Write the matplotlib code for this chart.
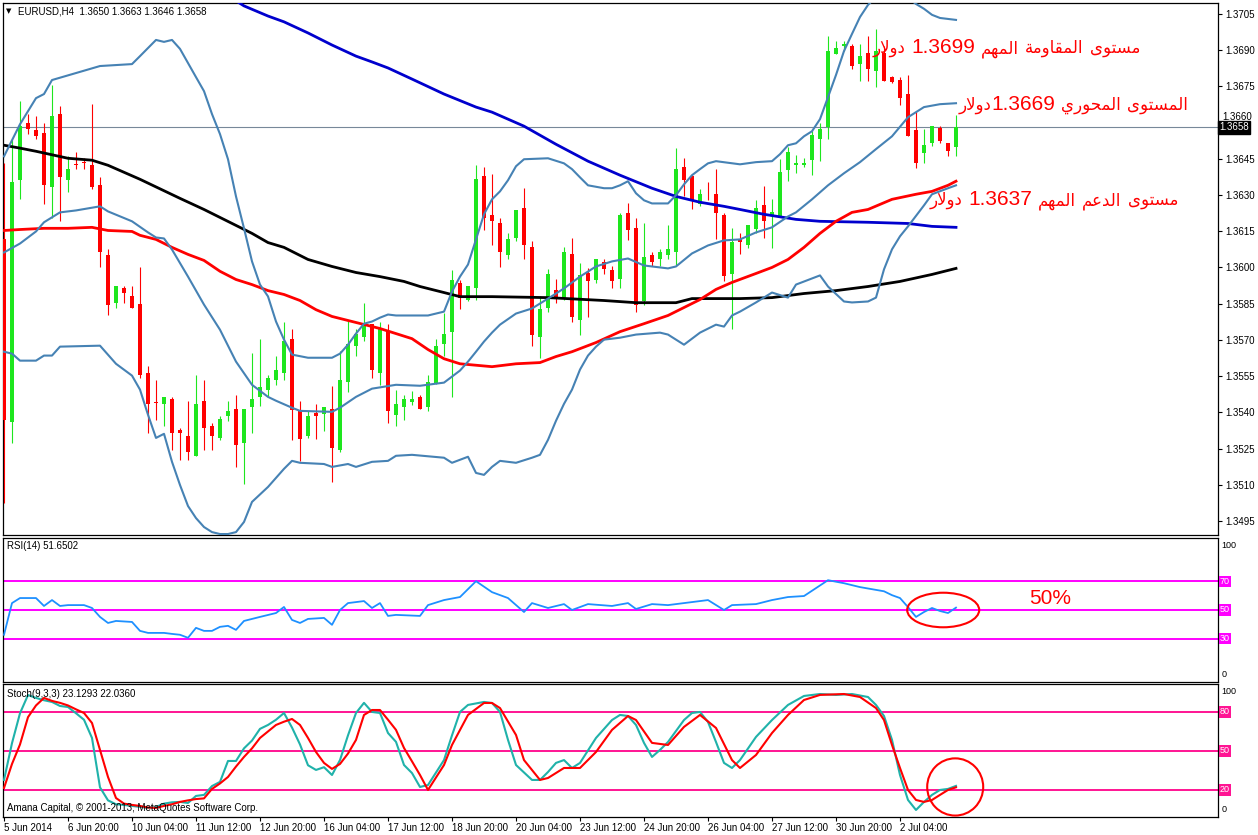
import re
import matplotlib
matplotlib.use("Agg")
import matplotlib.pyplot as plt
from matplotlib.patches import Ellipse

plt.rcParams['font.family'] = ['Liberation Sans', 'DejaVu Sans']

# ---- data (EURUSD H4, bar 0 = 5 Jun 2014 12:00) ----
opens = [
    1.36116, 1.35362, 1.36362, 1.36597, 1.36568, 1.36556, 1.36333, 1.36635, 1.36362, 1.36426,
    1.36435, 1.36426, 1.36343, 1.36053, 1.35853, 1.35916, 1.35882, 1.35847, 1.35563, 1.35443,
    1.35434, 1.35457, 1.35325, 1.35303, 1.35221, 1.35445, 1.35344, 1.35293, 1.35383, 1.35415,
    1.35273, 1.35420, 1.35462, 1.35491, 1.35533, 1.35563, 1.35705, 1.35411, 1.35300, 1.35397,
    1.35393, 1.35414, 1.35242, 1.35524, 1.35674, 1.35711, 1.35764, 1.35563, 1.35736, 1.35390,
    1.35420, 1.35441, 1.35463, 1.35420, 1.35517, 1.35681, 1.35733, 1.35936, 1.35867, 1.35913,
    1.36379, 1.36216, 1.36185, 1.36051, 1.36120, 1.36245, 1.36086, 1.35711, 1.35830, 1.35905,
    1.35871, 1.36054, 1.35782, 1.35978, 1.35950, 1.36024, 1.35988, 1.35953, 1.36227, 1.36165,
    1.35860, 1.36051, 1.36036, 1.36051, 1.36064, 1.36414, 1.36379, 1.36264, 1.36314, 1.36306,
    1.36216, 1.35971, 1.36119, 1.36091, 1.36161, 1.36257, 1.36213, 1.36213, 1.36404, 1.36425,
    1.36425, 1.36444, 1.36531, 1.36582, 1.36884, 1.36918, 1.36918, 1.36842, 1.36888, 1.36815,
    1.36888, 1.36787, 1.36776, 1.36718, 1.36568, 1.36473, 1.36515, 1.36577, 1.36517, 1.36500,
]
highs = [
    1.36434, 1.36527, 1.36690, 1.36635, 1.36628, 1.36597, 1.36755, 1.36669, 1.36462, 1.36476,
    1.36455, 1.36676, 1.36376, 1.36075, 1.35924, 1.35925, 1.35925, 1.36003, 1.35593, 1.35535,
    1.35463, 1.35463, 1.35335, 1.35445, 1.35556, 1.35535, 1.35356, 1.35386, 1.35445, 1.35473,
    1.35415, 1.35646, 1.35705, 1.35556, 1.35635, 1.35775, 1.35747, 1.35445, 1.35404, 1.35436,
    1.35422, 1.35508, 1.35653, 1.35784, 1.35746, 1.35853, 1.35764, 1.35775, 1.35764, 1.35494,
    1.35473, 1.35487, 1.35473, 1.35556, 1.35704, 1.35812, 1.35989, 1.35950, 1.35925, 1.36426,
    1.36416, 1.36386, 1.36206, 1.36144, 1.36236, 1.36328, 1.36109, 1.35881, 1.35994, 1.35953,
    1.36086, 1.36123, 1.36017, 1.35999, 1.36036, 1.36036, 1.36006, 1.36227, 1.36266, 1.36206,
    1.36185, 1.36065, 1.36075, 1.36174, 1.36496, 1.36455, 1.36386, 1.36326, 1.36355, 1.36407,
    1.36227, 1.36165, 1.36144, 1.36174, 1.36278, 1.36338, 1.36282, 1.36448, 1.36497, 1.36465,
    1.36455, 1.36566, 1.36600, 1.36957, 1.36939, 1.36939, 1.36925, 1.36925, 1.36960, 1.36987,
    1.36918, 1.36794, 1.36787, 1.36797, 1.36646, 1.36575, 1.36584, 1.36584, 1.36517, 1.36630,
]
lows = [
    1.35024, 1.35273, 1.36282, 1.36552, 1.36531, 1.36261, 1.36206, 1.36192, 1.36313, 1.36407,
    1.36407, 1.36326, 1.36003, 1.35802, 1.35833, 1.35853, 1.35833, 1.35542, 1.35314, 1.35369,
    1.35342, 1.35245, 1.35203, 1.35203, 1.35221, 1.35242, 1.35242, 1.35284, 1.35365, 1.35173,
    1.35104, 1.35314, 1.35425, 1.35466, 1.35515, 1.35533, 1.35286, 1.35197, 1.35293, 1.35290,
    1.35321, 1.35113, 1.35234, 1.35483, 1.35632, 1.35694, 1.35542, 1.35512, 1.35356, 1.35342,
    1.35369, 1.35431, 1.35414, 1.35404, 1.35517, 1.35632, 1.35463, 1.35826, 1.35860, 1.35864,
    1.36155, 1.36093, 1.36003, 1.36033, 1.36109, 1.36033, 1.35674, 1.35625, 1.35815, 1.35851,
    1.35864, 1.35773, 1.35722, 1.35794, 1.35936, 1.35974, 1.35913, 1.35913, 1.36112, 1.35816,
    1.35844, 1.36006, 1.36006, 1.36033, 1.36010, 1.36296, 1.36241, 1.36254, 1.36278, 1.36116,
    1.35943, 1.35743, 1.36054, 1.36082, 1.36144, 1.36120, 1.36082, 1.36213, 1.36358, 1.36393,
    1.36414, 1.36382, 1.36441, 1.36531, 1.36884, 1.36898, 1.36822, 1.36773, 1.36773, 1.36747,
    1.36773, 1.36763, 1.36672, 1.36545, 1.36411, 1.36432, 1.36504, 1.36515, 1.36462, 1.36460,
]
closes = [
    1.35369, 1.36355, 1.36586, 1.36575, 1.36545, 1.36340, 1.36625, 1.36375, 1.36407, 1.36424,
    1.36431, 1.36333, 1.36064, 1.35844, 1.35924, 1.35895, 1.35833, 1.35553, 1.35434, 1.35440,
    1.35463, 1.35314, 1.35314, 1.35234, 1.35436, 1.35335, 1.35300, 1.35372, 1.35407, 1.35263,
    1.35415, 1.35455, 1.35505, 1.35542, 1.35577, 1.35697, 1.35411, 1.35290, 1.35386, 1.35386,
    1.35422, 1.35252, 1.35535, 1.35683, 1.35726, 1.35757, 1.35574, 1.35743, 1.35404, 1.35436,
    1.35455, 1.35455, 1.35414, 1.35526, 1.35676, 1.35726, 1.35946, 1.35874, 1.35925, 1.36365,
    1.36206, 1.36192, 1.36064, 1.36116, 1.36236, 1.36093, 1.35722, 1.35826, 1.35974, 1.35878,
    1.36065, 1.35794, 1.35967, 1.35943, 1.36036, 1.35994, 1.35943, 1.36216, 1.36155, 1.35844,
    1.36044, 1.36024, 1.36065, 1.36075, 1.36407, 1.36362, 1.36275, 1.36306, 1.36311, 1.36227,
    1.35964, 1.36106, 1.36105, 1.36174, 1.36245, 1.36192, 1.36230, 1.36397, 1.36476, 1.36434,
    1.36434, 1.36548, 1.36575, 1.36898, 1.36907, 1.36925, 1.36835, 1.36874, 1.36822, 1.36898,
    1.36773, 1.36766, 1.36701, 1.36545, 1.36432, 1.36506, 1.36584, 1.36524, 1.36483, 1.36580,
]

# indicator lines as (bar, value) pairs
bb_upper = [(0, 1.36460), (2, 1.36593), (4, 1.36701), (5, 1.36718), (6, 1.36776), (9, 1.36805),
            (12, 1.36834), (16, 1.36842), (17, 1.36875), (19, 1.36942), (20, 1.36934), (21, 1.36942),
            (22, 1.36905), (24, 1.36788), (25, 1.36730), (26, 1.36635), (27, 1.36552), (28, 1.36448),
            (29, 1.36294), (30, 1.36162), (31, 1.36025), (32, 1.35929), (33, 1.35880), (34, 1.35776),
            (35, 1.35701), (36, 1.35639), (38, 1.35626), (41, 1.35626), (42, 1.35643), (43, 1.35680),
            (44, 1.35726), (45, 1.35767), (46, 1.35776), (47, 1.35792), (48, 1.35805), (49, 1.35801),
            (53, 1.35801), (55, 1.35817), (56, 1.35900), (57, 1.35962), (58, 1.36012), (59, 1.36116),
            (60, 1.36220), (61, 1.36282), (62, 1.36315), (63, 1.36361), (64, 1.36419), (65, 1.36448),
            (68, 1.36452), (70, 1.36431), (71, 1.36407), (72, 1.36373), (73, 1.36340), (75, 1.36328),
            (76, 1.36328), (77, 1.36340), (78, 1.36357), (79, 1.36307), (80, 1.36278), (81, 1.36265),
            (83, 1.36265), (84, 1.36299), (85, 1.36344), (86, 1.36382), (87, 1.36407), (88, 1.36431),
            (89, 1.36440), (92, 1.36427), (94, 1.36436), (96, 1.36440), (97, 1.36469), (98, 1.36506),
            (99, 1.36514), (100, 1.36543), (101, 1.36564), (102, 1.36614), (103, 1.36705), (104, 1.36797),
            (105, 1.36896), (106, 1.36967), (107, 1.37037), (108, 1.37087), (109, 1.37120), (110, 1.37145),
            (111, 1.37145), (112, 1.37137), (113, 1.37116), (114, 1.37091), (115, 1.37071), (116, 1.37046),
            (117, 1.37033), (118, 1.37029), (119, 1.37025)]
bb_middle = [(0, 1.36062), (2, 1.36099), (4, 1.36149), (5, 1.36187), (7, 1.36228), (9, 1.36236),
             (12, 1.36253), (13, 1.36232), (16, 1.36191), (18, 1.36145), (19, 1.36124), (20, 1.36120),
             (21, 1.36074), (23, 1.35962), (25, 1.35846), (27, 1.35742), (29, 1.35610), (31, 1.35514),
             (33, 1.35464), (34, 1.35448), (36, 1.35419), (37, 1.35406), (41, 1.35402), (42, 1.35419),
             (44, 1.35464), (46, 1.35498), (49, 1.35514), (52, 1.35510), (55, 1.35523), (56, 1.35548),
             (57, 1.35573), (58, 1.35610), (59, 1.35651), (60, 1.35693), (61, 1.35730), (62, 1.35763),
             (64, 1.35809), (66, 1.35830), (68, 1.35871), (70, 1.35913), (72, 1.35962), (74, 1.36004),
             (76, 1.36025), (78, 1.36037), (80, 1.36008), (83, 1.35996), (84, 1.36004), (86, 1.36058),
             (88, 1.36091), (90, 1.36112), (92, 1.36116), (94, 1.36145), (96, 1.36166), (98, 1.36211),
             (99, 1.36228), (101, 1.36282), (103, 1.36340), (105, 1.36390), (107, 1.36436), (109, 1.36490),
             (111, 1.36543), (113, 1.36622), (115, 1.36664), (117, 1.36676), (119, 1.36680)]
bb_lower = [(0, 1.35651), (1, 1.35643), (2, 1.35614), (4, 1.35614), (5, 1.35635), (6, 1.35635),
            (7, 1.35672), (12, 1.35676), (14, 1.35601), (16, 1.35552), (17, 1.35494), (18, 1.35390),
            (19, 1.35294), (20, 1.35311), (21, 1.35195), (22, 1.35099), (23, 1.35012), (24, 1.34962),
            (25, 1.34925), (26, 1.34904), (27, 1.34896), (28, 1.34896), (29, 1.34904), (30, 1.34946),
            (31, 1.35029), (33, 1.35091), (35, 1.35166), (36, 1.35199), (37, 1.35191), (40, 1.35186),
            (41, 1.35174), (43, 1.35186), (44, 1.35174), (46, 1.35195), (48, 1.35199), (49, 1.35220),
            (51, 1.35224), (55, 1.35212), (56, 1.35191), (58, 1.35216), (59, 1.35149), (60, 1.35141),
            (61, 1.35174), (62, 1.35199), (64, 1.35191), (66, 1.35212), (67, 1.35224), (68, 1.35286),
            (69, 1.35365), (70, 1.35435), (71, 1.35494), (72, 1.35577), (73, 1.35635), (74, 1.35672),
            (75, 1.35701), (77, 1.35709), (79, 1.35722), (82, 1.35730), (83, 1.35722), (85, 1.35680),
            (87, 1.35730), (89, 1.35763), (90, 1.35755), (91, 1.35801), (92, 1.35817), (94, 1.35855),
            (96, 1.35896), (98, 1.35875), (99, 1.35929), (102, 1.35967), (103, 1.35921), (105, 1.35859),
            (106, 1.35855), (108, 1.35859), (109, 1.35875), (110, 1.35992), (111, 1.36075), (112, 1.36129),
            (113, 1.36170), (115, 1.36257), (116, 1.36303), (118, 1.36328), (119, 1.36340)]
ma_blue = [(28, 1.37120), (29, 1.37104), (30, 1.37083), (33, 1.37041), (35, 1.37017), (38, 1.36971),
           (41, 1.36921), (44, 1.36875), (46, 1.36851), (48, 1.36826), (51, 1.36780), (55, 1.36718),
           (59, 1.36664), (61, 1.36643), (65, 1.36585), (69, 1.36510), (73, 1.36440), (77, 1.36382),
           (81, 1.36328), (84, 1.36294), (87, 1.36270), (90, 1.36253), (92, 1.36240), (95, 1.36220),
           (99, 1.36199), (102, 1.36191), (108, 1.36187), (113, 1.36182), (116, 1.36170), (119, 1.36166)]
ma_black = [(0, 1.36506), (2, 1.36494), (4, 1.36481), (8, 1.36452), (11, 1.36444), (13, 1.36423),
            (17, 1.36365), (22, 1.36286), (25, 1.36240), (29, 1.36174), (31, 1.36141), (33, 1.36103),
            (35, 1.36083), (38, 1.36033), (41, 1.36004), (44, 1.35979), (47, 1.35962), (50, 1.35942),
            (52, 1.35921), (55, 1.35896), (57, 1.35879), (61, 1.35879), (68, 1.35875), (75, 1.35863),
            (79, 1.35854), (84, 1.35854), (86, 1.35871), (92, 1.35871), (96, 1.35875), (100, 1.35892),
            (104, 1.35904), (108, 1.35921), (112, 1.35942), (116, 1.35971), (119, 1.35996)]
ma_red = [(0, 1.36153), (2, 1.36157), (5, 1.36162), (8, 1.36162), (11, 1.36166), (13, 1.36153),
          (16, 1.36149), (17, 1.36133), (19, 1.36116), (21, 1.36083), (23, 1.36054), (25, 1.36029),
          (27, 1.35984), (29, 1.35950), (31, 1.35929), (33, 1.35904), (35, 1.35888), (37, 1.35863),
          (39, 1.35825), (41, 1.35797), (44, 1.35772), (47, 1.35747), (49, 1.35726), (51, 1.35705),
          (53, 1.35660), (55, 1.35622), (57, 1.35601), (61, 1.35589), (64, 1.35601), (67, 1.35606),
          (69, 1.35631), (71, 1.35651), (74, 1.35689), (77, 1.35734), (80, 1.35767), (83, 1.35801),
          (85, 1.35834), (87, 1.35867), (89, 1.35909), (91, 1.35938), (94, 1.35975), (96, 1.36000),
          (98, 1.36033), (100, 1.36083), (102, 1.36141), (104, 1.36191), (106, 1.36228), (108, 1.36240),
          (111, 1.36282), (114, 1.36303), (116, 1.36315), (118, 1.36340), (119, 1.36357)]

rsi = [(0, 32.8), (1, 54.8), (2, 58.3), (4, 58.3), (5, 52.8), (6, 56.9), (7, 52.8), (8, 53.4),
       (10, 53.4), (11, 51.4), (12, 45.2), (13, 41.0), (14, 42.4), (16, 41.7), (17, 35.5), (18, 34.1),
       (20, 34.1), (21, 33.4), (22, 32.8), (23, 30.7), (24, 37.6), (25, 35.5), (26, 35.5), (27, 38.3),
       (28, 39.0), (29, 36.2), (30, 42.4), (32, 45.2), (34, 47.9), (35, 52.1), (36, 43.1), (37, 41.0),
       (38, 43.8), (40, 44.5), (41, 39.7), (42, 50.0), (43, 54.8), (45, 56.2), (46, 51.4), (47, 54.8),
       (48, 45.9), (49, 46.6), (52, 45.9), (53, 53.4), (55, 56.9), (57, 59.0), (59, 70.0), (61, 62.4),
       (63, 58.3), (65, 48.6), (66, 54.8), (68, 51.4), (70, 54.1), (71, 50.0), (73, 54.1), (76, 52.8),
       (78, 54.8), (79, 50.7), (81, 54.1), (83, 53.4), (86, 55.5), (88, 56.9), (90, 50.0), (91, 53.4),
       (94, 54.1), (96, 56.9), (98, 59.0), (100, 59.7), (103, 70.7), (105, 68.6), (107, 65.9),
       (110, 63.0), (111, 60.3), (112, 58.3), (113, 52.0), (114, 45.2), (115, 48.6), (116, 51.4),
       (117, 49.3), (118, 47.9), (119, 51.65)]

stoch_k = [(0, 27.7), (1, 56), (2, 79), (3, 93), (4, 90.8), (5, 89), (6, 87.7), (7, 84.6), (8, 83.8),
           (9, 79), (10, 74), (11, 60), (12, 22), (13, 12), (14, 9), (15, 8.5), (16, 7.7), (17, 7),
           (18, 6.2), (19, 6.9), (20, 9.5), (21, 10.5), (22, 10.8), (23, 10), (24, 15.4), (25, 16.2),
           (26, 23), (27, 26.2), (28, 42.3), (29, 42.3), (30, 52), (31, 58), (32, 67), (33, 70),
           (34, 74), (35, 79.2), (36, 68), (37, 55), (38, 39), (39, 35.4), (40, 37.5), (41, 31.5),
           (42, 43), (43, 62), (44, 79.2), (45, 87), (46, 80), (47, 79.2), (48, 63.8), (49, 57),
           (50, 39.2), (51, 33), (52, 22.3), (53, 23.8), (55, 43), (56, 62), (57, 80), (58, 85.4),
           (60, 87.7), (61, 86.9), (62, 80), (63, 58.5), (64, 39.2), (66, 27.7), (67, 27.7), (68, 33.8),
           (69, 40.8), (70, 43), (71, 36.9), (72, 40.8), (74, 60), (76, 73.8), (77, 77.7), (78, 76.9),
           (79, 70), (80, 56.2), (81, 45.4), (82, 50.8), (83, 56.9), (85, 73.8), (86, 79.2), (87, 80),
           (88, 72.3), (89, 56.9), (90, 40.8), (91, 36.9), (92, 43), (94, 60.8), (96, 73.8), (98, 85.4),
           (100, 92.3), (102, 93.8), (104, 93.1), (106, 93.8), (108, 91.5), (109, 85.4), (110, 76.9),
           (111, 58.5), (112, 31.5), (113, 12.3), (114, 4.6), (115, 10.8), (116, 16.2), (117, 20),
           (118, 20.8), (119, 23.13)]
stoch_d = [(0, 21.5), (1, 40), (2, 55), (3, 76), (4, 85), (5, 90.8), (6, 88.5), (7, 87), (8, 85),
           (9, 82), (10, 79.2), (11, 71.5), (12, 50.8), (13, 30), (14, 13.8), (15, 9.5), (16, 8.5),
           (17, 7.7), (18, 6.5), (19, 6.2), (20, 7.7), (21, 9), (22, 10.8), (23, 12), (24, 13),
           (25, 13.5), (26, 20.8), (27, 25), (28, 30), (29, 38), (30, 45.4), (31, 52), (32, 60),
           (33, 65), (34, 70), (35, 72.5), (36, 74.6), (37, 70), (38, 60), (39, 49.2), (40, 40.8),
           (41, 36.2), (42, 40), (43, 48), (44, 58.5), (45, 77.7), (46, 81.5), (47, 81.5), (48, 74),
           (49, 66.2), (50, 52.3), (51, 42), (52, 31.5), (53, 20), (55, 39.2), (56, 54.6), (58, 77.7),
           (60, 86.9), (61, 86.9), (62, 83), (64, 62.3), (65, 43), (67, 27.7), (68, 29.2), (70, 36.9),
           (72, 36.9), (74, 49.2), (76, 66.2), (78, 76.9), (79, 73.8), (81, 56.2), (83, 54.6),
           (85, 68.5), (87, 77.7), (89, 67.7), (91, 43), (92, 36.9), (94, 46.9), (96, 63.8), (98, 77.7),
           (100, 89.2), (102, 93.1), (105, 93.8), (107, 91.5), (109, 83), (110, 73.8), (111, 54.6),
           (112, 36.9), (113, 20), (114, 12.3), (115, 10.8), (116, 12.3), (117, 16.2), (118, 20),
           (119, 22.04)]

price_ticks = [1.3495, 1.3510, 1.3525, 1.3540, 1.3555, 1.3570, 1.3585, 1.3600,
               1.3615, 1.3630, 1.3645, 1.3660, 1.3675, 1.3690, 1.3705]
date_ticks = [0, 8, 16, 24, 32, 40, 48, 56, 64, 72, 80, 88, 96, 104, 112]
date_labels = ['5 Jun 2014', '6 Jun 20:00', '10 Jun 04:00', '11 Jun 12:00', '12 Jun 20:00',
               '16 Jun 04:00', '17 Jun 12:00', '18 Jun 20:00', '20 Jun 04:00', '23 Jun 12:00',
               '24 Jun 20:00', '26 Jun 04:00', '27 Jun 12:00', '30 Jun 20:00', '2 Jul 04:00']
last_price = 1.3658

note_resist = 'مستوى المقاومة المهم 1.3699 دولار'
note_pivot = 'المستوى المحوري 1.3669دولار'
note_support = 'مستوى الدعم المهم 1.3637 دولار'

# ---- minimal arabic shaping (matplotlib has no shaping/bidi) ----
FORMS = {  # isolated, final, initial, medial
    'ا': ('\uFE8D', '\uFE8E', None, None),
    'ة': ('\uFE93', '\uFE94', None, None),
    'ت': ('\uFE95', '\uFE96', '\uFE97', '\uFE98'),
    'ح': ('\uFEA1', '\uFEA2', '\uFEA3', '\uFEA4'),
    'د': ('\uFEA9', '\uFEAA', None, None),
    'ر': ('\uFEAD', '\uFEAE', None, None),
    'س': ('\uFEB1', '\uFEB2', '\uFEB3', '\uFEB4'),
    'ع': ('\uFEC9', '\uFECA', '\uFECB', '\uFECC'),
    'ق': ('\uFED5', '\uFED6', '\uFED7', '\uFED8'),
    'ل': ('\uFEDD', '\uFEDE', '\uFEDF', '\uFEE0'),
    'م': ('\uFEE1', '\uFEE2', '\uFEE3', '\uFEE4'),
    'ه': ('\uFEE9', '\uFEEA', '\uFEEB', '\uFEEC'),
    'و': ('\uFEED', '\uFEEE', None, None),
    'ى': ('\uFEEF', '\uFEF0', None, None),
    'ي': ('\uFEF1', '\uFEF2', '\uFEF3', '\uFEF4'),
}
ARABIC = re.compile(r'[\u0600-\u06FF]')


def shape(word):
    out = []
    i = 0
    while i < len(word):
        ch = word[i]
        prev_joins = i > 0 and FORMS[word[i - 1]][2] is not None
        if ch == 'ل' and i + 1 < len(word) and word[i + 1] == 'ا':
            out.append('\uFEFC' if prev_joins else '\uFEFB')
            i += 2
            continue
        f = FORMS[ch]
        next_joins = i + 1 < len(word) and f[2] is not None
        if prev_joins and next_joins:
            out.append(f[3])
        elif prev_joins:
            out.append(f[1])
        elif next_joins:
            out.append(f[2])
        else:
            out.append(f[0])
        i += 1
    return ''.join(out)


# ---- figure ----
W, H = 1258, 835
fig = plt.figure(figsize=(W / 100, H / 100), dpi=100)
renderer = fig.canvas.get_renderer()


def rect(x0, y0, x1, y1):
    return [x0 / W, 1 - y1 / H, (x1 - x0) / W, (y1 - y0) / H]


def fx(x):
    return x / W


def fy(y):
    return 1 - y / H


def rtl_note(x_right, y_base, text, color='#ff0000'):
    # lay the runs out right-to-left; arabic in DejaVu Sans, digits in Liberation Sans
    x = x_right
    for run in re.findall(r'[\u0600-\u06FF]+|\s+|[^\s\u0600-\u06FF]+', text):
        if run.isspace():
            x -= 6 * len(run)
            continue
        if ARABIC.match(run):
            s, fam, size = shape(run)[::-1], 'DejaVu Sans', 12
        else:
            s, fam, size = run, 'Liberation Sans', 15
        t = fig.text(fx(x), fy(y_base), s, color=color, fontsize=size, family=fam,
                     ha='right', va='baseline')
        x -= t.get_window_extent(renderer=renderer).width


ax = fig.add_axes(rect(3, 3, 1218, 535))
ax_rsi = fig.add_axes(rect(3, 538, 1218, 682))
ax_st = fig.add_axes(rect(3, 684, 1218, 817))

XL = (-0.125, 151.75)
for a in (ax, ax_rsi, ax_st):
    a.set_xlim(*XL)
    for s in a.spines.values():
        s.set_color('black')
        s.set_linewidth(0.9)
    a.tick_params(axis='x', bottom=False, labelbottom=False)

# candles
UP, DN = '#1ee61e', '#ff0000'
for i in range(len(opens)):
    o, h, l, c = opens[i], highs[i], lows[i], closes[i]
    col = UP if c >= o else DN
    ax.vlines(i, l, h, color=col, lw=0.8, zorder=3)
    ax.bar(i, max(abs(c - o), 0.00003), bottom=min(o, c), width=0.62, color=col, lw=0, zorder=3)


def line(a, pairs, **kw):
    xs = [p[0] for p in pairs]
    ys = [p[1] for p in pairs]
    a.plot(xs, ys, **kw)


line(ax, ma_blue, color='#0000cd', lw=2.0, zorder=4)
line(ax, ma_black, color='black', lw=2.0, zorder=4)
line(ax, ma_red, color='#ff0000', lw=2.0, zorder=4)
for band in (bb_upper, bb_middle, bb_lower):
    line(ax, band, color='#4682b4', lw=1.5, zorder=4)

ax.axhline(last_price, color='#778899', lw=0.8, zorder=1)
ax.set_ylim(1.34892, 1.37095)
ax.yaxis.tick_right()
ax.set_yticks(price_ticks)
# the 1.3660 label sits just above the current-price box, so it is drawn separately
ax.set_yticklabels(['' if t == 1.3660 else '%.4f' % t for t in price_ticks])
ax.tick_params(axis='y', direction='out', length=3, width=0.8, labelsize=7, pad=2)
ax.text(1.0036, 1.36603, '%.4f' % 1.3660, transform=ax.get_yaxis_transform(), fontsize=7,
        va='bottom', ha='left', clip_on=False)
ax.text(1.0008, last_price, '%.4f' % last_price, transform=ax.get_yaxis_transform(),
        color='white', fontsize=7, va='center', ha='left', zorder=10, clip_on=False,
        bbox=dict(boxstyle='square,pad=0.15', fc='black', ec='black'))

# arabic level notes (right edge, baseline in pixels)
rtl_note(1140, 53, note_resist)
rtl_note(1188, 110, note_pivot)
rtl_note(1178, 205, note_support)

fig.text(fx(6), fy(11), '\u25bc', fontsize=5, va='center', ha='left', family='DejaVu Sans')
fig.text(fx(18), fy(11), 'EURUSD,H4  1.3650 1.3663 1.3646 1.3658', fontsize=7, va='center', ha='left')

# RSI panel
line(ax_rsi, rsi, color='#1e90ff', lw=1.3, zorder=4)
ax_rsi.set_ylim(0, 100)
ax_rsi.set_yticks([])
for lv in (30, 50, 70):
    ax_rsi.axhline(lv, color='#ff00ff', lw=1.4, zorder=2)
    ax_rsi.text(1.0015, lv, str(lv), transform=ax_rsi.get_yaxis_transform(), color='white',
                fontsize=6.5, va='center', ha='left', clip_on=False,
                bbox=dict(boxstyle='square,pad=0.12', fc='#ff00ff', ec='none'))
ax_rsi.text(1.003, 95, '100', transform=ax_rsi.get_yaxis_transform(), fontsize=6.5, va='center', ha='left')
ax_rsi.text(1.003, 5, '0', transform=ax_rsi.get_yaxis_transform(), fontsize=6.5, va='center', ha='left')
ax_rsi.add_patch(Ellipse((117.4, 50), 9, 24, fill=False, ec='red', lw=1.5, zorder=5))
fig.text(fx(1050), fy(599), '50%', color='red', fontsize=15, ha='center', va='center')
fig.text(fx(7), fy(546), 'RSI(14) 51.6502', fontsize=7, va='center', ha='left')

# Stochastic panel
line(ax_st, stoch_k, color='#20b2aa', lw=1.5, zorder=4)
line(ax_st, stoch_d, color='#ff0000', lw=1.5, zorder=5)
ax_st.set_ylim(-0.8, 101.5)
ax_st.set_yticks([])
for lv in (20, 50, 80):
    ax_st.axhline(lv, color='#ff1493', lw=1.4, zorder=2)
    ax_st.text(1.0015, lv, str(lv), transform=ax_st.get_yaxis_transform(), color='white',
               fontsize=6.5, va='center', ha='left', clip_on=False,
               bbox=dict(boxstyle='square,pad=0.12', fc='#ff1493', ec='none'))
ax_st.text(1.003, 96, '100', transform=ax_st.get_yaxis_transform(), fontsize=6.5, va='center', ha='left')
ax_st.text(1.003, 5, '0', transform=ax_st.get_yaxis_transform(), fontsize=6.5, va='center', ha='left')
ax_st.add_patch(Ellipse((118.9, 22.3), 7, 44, fill=False, ec='red', lw=1.5, zorder=6))
fig.text(fx(7), fy(694), 'Stoch(9,3,3) 23.1293 22.0360', fontsize=7, va='center', ha='left')
fig.text(fx(7), fy(808), 'Amana Capital, \u00a9 2001-2013, MetaQuotes Software Corp.', fontsize=7,
         va='center', ha='left')

ax_st.tick_params(axis='x', bottom=True, labelbottom=True, direction='out', length=3, width=0.8,
                  labelsize=7, pad=1)
ax_st.set_xticks(date_ticks)
ax_st.set_xticklabels(date_labels, ha='left')

fig.savefig('out.png', dpi=100, facecolor='white')
